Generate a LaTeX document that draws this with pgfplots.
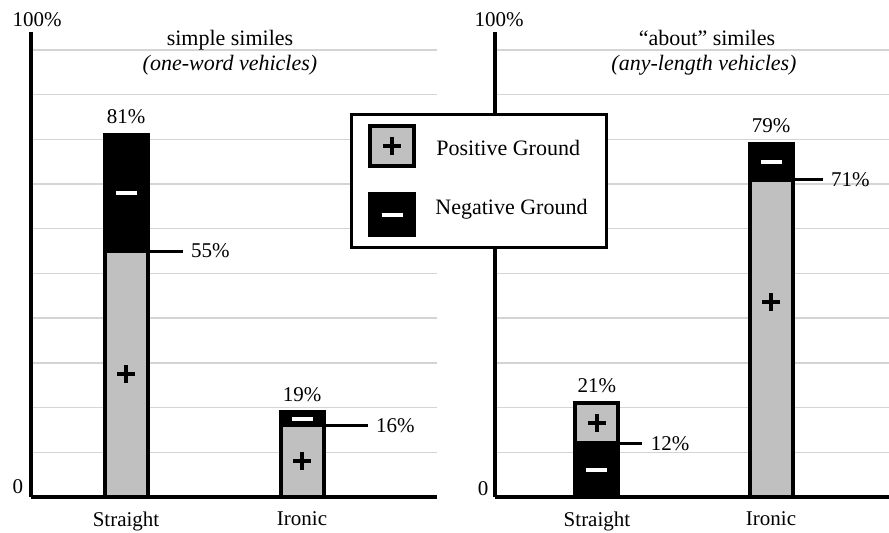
\documentclass[border=0pt]{standalone}
\usepackage{pgfplots}
\pgfplotsset{compat=1.18}
\usepackage{fontspec}
\setmainfont{Liberation Serif}
\definecolor{barg}{RGB}{192,192,192}
\definecolor{gridg}{RGB}{212,212,212}
\newcommand{\lbl}{\fontsize{10.5}{12}\selectfont}
\newcommand{\ttl}{\fontsize{11}{13}\selectfont}
\tikzset{
 plussign/.pic={\draw[line width=2pt] (-4.5pt,0pt)--(4.5pt,0pt) (0pt,-4.5pt)--(0pt,4.5pt);},
 minussign/.pic={\draw[white, line width=2pt] (-5.25pt,0pt)--(5.25pt,0pt);},
}
\pgfplotsset{
 panel/.style={
  scale only axis, height=232.5pt, ymin=0, ymax=104,
  axis x line=bottom, axis y line=left,
  axis line style={-, line width=2pt},
  xtick={0,1}, xticklabels={Straight,Ironic},
  ytick={10,20,...,100}, yticklabels={},
  ymajorgrids, grid style={gridg, line width=0.75pt},
  major tick length=0pt,
  clip=false,
  xticklabel style={font=\lbl, yshift=-4pt},
 },
 seg/.style={ybar, bar width=21.5pt, bar shift=0pt, draw=black, line width=2pt},
}
\begin{document}
\begin{tikzpicture}
\path[use as bounding box] (0pt,0pt) rectangle (444.5pt,266pt);
% left panel
\begin{axis}[panel, at={(15.5pt,17.5pt)}, anchor=south west, width=203pt,
  xmin=-0.54, xmax=1.767]
\addplot[seg, fill=black] coordinates {(0,81)};
\addplot[seg, fill=barg] coordinates {(0,55)};
\addplot[seg, fill=black] coordinates {(1,19)};
\addplot[seg, fill=barg] coordinates {(1,16)};
\node[anchor=base, font=\lbl] at ([yshift=5.5pt]axis cs:0,81) {81\%};
\node[anchor=base, font=\lbl] at ([yshift=5.5pt]axis cs:1,19) {19\%};
\draw[line width=1.5pt] ([xshift=11.75pt]axis cs:0,55) -- ([xshift=28.25pt]axis cs:0,55) node[anchor=west, inner sep=3.5pt, font=\lbl] {55\%};
\draw[line width=1.5pt] ([xshift=11.75pt]axis cs:1,16) -- ([xshift=32.75pt]axis cs:1,16) node[anchor=west, inner sep=3.5pt, font=\lbl] {16\%};
\path (axis cs:0,27.5) pic {plussign};
\path (axis cs:0,68) pic {minussign};
\path (axis cs:1,8) pic {plussign};
\path (axis cs:1,17.5) pic {minussign};
\end{axis}
% right panel
\begin{axis}[panel, at={(247.5pt,17.5pt)}, anchor=south west, width=197pt,
  xmin=-0.586, xmax=1.678]
\addplot[seg, fill=barg] coordinates {(0,21)};
\addplot[seg, fill=black] coordinates {(0,12)};
\addplot[seg, fill=black] coordinates {(1,79)};
\addplot[seg, fill=barg] coordinates {(1,71)};
\node[anchor=base, font=\lbl] at ([yshift=5.5pt]axis cs:0,21) {21\%};
\node[anchor=base, font=\lbl] at ([yshift=5.5pt]axis cs:1,79) {79\%};
\draw[line width=1.5pt] ([xshift=11.75pt]axis cs:0,12) -- ([xshift=22.75pt]axis cs:0,12) node[anchor=west, inner sep=3.5pt, font=\lbl] {12\%};
\draw[line width=1.5pt] ([xshift=11.75pt]axis cs:1,71) -- ([xshift=25.75pt]axis cs:1,71) node[anchor=west, inner sep=3.5pt, font=\lbl] {71\%};
\path (axis cs:0,16.5) pic {plussign};
\path (axis cs:0,6) pic {minussign};
\path (axis cs:1,43.6) pic {plussign};
\path (axis cs:1,75) pic {minussign};
\end{axis}
% titles and axis end labels
\node[anchor=base, font=\ttl] at (115pt,243.5pt) {simple similes};
\node[anchor=base, font=\ttl\itshape] at (115pt,231pt) {(one-word vehicles)};
\node[anchor=base, font=\ttl] at (353.5pt,243.5pt) {``about'' similes};
\node[anchor=base, font=\ttl\itshape] at (352pt,231pt) {(any-length vehicles)};
\node[anchor=base, font=\lbl] at (18.5pt,253pt) {100\%};
\node[anchor=base, font=\lbl] at (249.5pt,253pt) {100\%};
\node[anchor=base, font=\lbl] at (9pt,19.5pt) {0};
\node[anchor=base, font=\lbl] at (241.5pt,18.5pt) {0};
% legend
\draw[line width=1.5pt, fill=white] (175.5pt,142.5pt) rectangle (303pt,209pt);
\draw[line width=2pt, fill=barg] (185pt,183pt) rectangle (207pt,203pt);
\path (196pt,193pt) pic {plussign};
\draw[line width=2pt, fill=black] (185pt,148.5pt) rectangle (207pt,169pt);
\path (196pt,158.75pt) pic {minussign};
\node[anchor=base west, inner sep=0pt, font=\ttl] at (218pt,188.5pt) {Positive Ground};
\node[anchor=base west, inner sep=0pt, font=\ttl] at (217.5pt,159pt) {Negative Ground};
\end{tikzpicture}
\end{document}
